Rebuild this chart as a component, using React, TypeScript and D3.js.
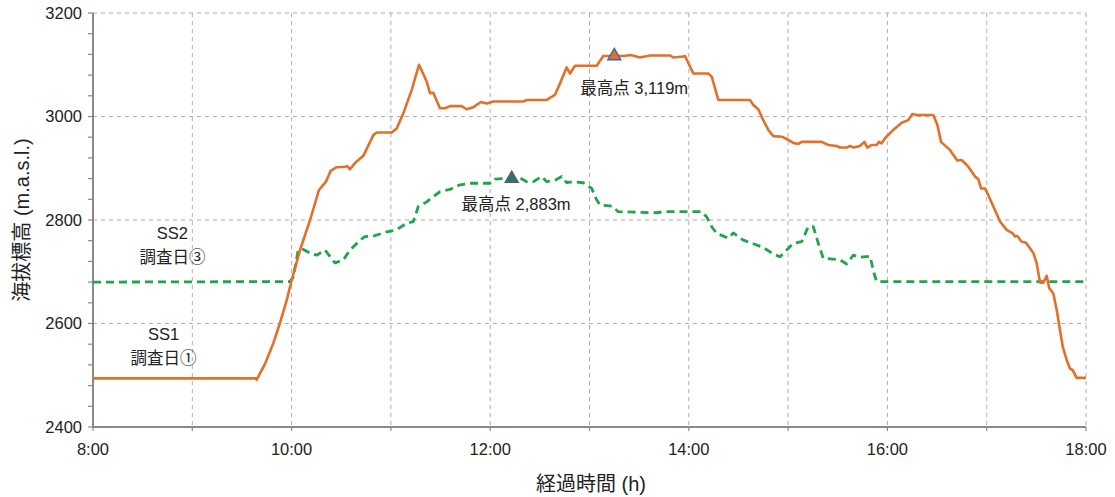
import React from "react";
import * as d3 from "d3";

// clock time (decimal hours) and elevation (m)
const ss1Time = [
  8.0, 9.641, 9.648, 9.732, 9.816, 9.883, 9.951, 10.001, 10.085, 10.186, 10.276, 10.346, 10.394, 10.454,
  10.538, 10.561, 10.588, 10.638, 10.722, 10.823, 10.857, 11.008, 11.058, 11.125, 11.209, 11.283, 11.31,
  11.361, 11.394, 11.427, 11.494, 11.545, 11.595, 11.713, 11.763, 11.83, 11.907, 11.965, 12.031, 12.333,
  12.368, 12.569, 12.653, 12.703, 12.77, 12.804, 12.854, 13.072, 13.139, 13.173, 13.34, 13.415, 13.508,
  13.609, 13.811, 13.844, 13.945, 13.962, 14.045, 14.196, 14.231, 14.297, 14.616, 14.65, 14.7, 14.75,
  14.801, 14.851, 14.936, 15.002, 15.052, 15.103, 15.137, 15.338, 15.405, 15.489, 15.523, 15.59, 15.623,
  15.657, 15.724, 15.768, 15.798, 15.842, 15.892, 15.915, 15.942, 15.976, 16.059, 16.144, 16.21, 16.251,
  16.295, 16.462, 16.503, 16.54, 16.631, 16.704, 16.748, 16.815, 16.882, 16.915, 16.943, 16.983, 17.016,
  17.084, 17.134, 17.201, 17.262, 17.285, 17.308, 17.353, 17.396, 17.47, 17.504, 17.537, 17.57, 17.604,
  17.63, 17.671, 17.705, 17.766, 17.806, 17.839, 17.866, 17.906, 18.0,
];
const ss1Elev = [
  2494, 2494, 2491, 2522, 2562, 2601, 2645, 2684, 2742, 2800, 2858, 2874, 2895, 2902,
  2903, 2904, 2898, 2910, 2924, 2964, 2969, 2969, 2977, 3006, 3051, 3100, 3089,
  3067, 3045, 3046, 3016, 3016, 3020, 3020, 3014, 3018, 3028, 3025, 3029, 3029,
  3032, 3032, 3042, 3064, 3095, 3083, 3098, 3098, 3117, 3117, 3117, 3119, 3114,
  3118, 3118, 3114, 3116, 3117, 3083, 3083, 3077, 3032, 3032, 3022, 3014, 2993,
  2974, 2962, 2961, 2955, 2949, 2947, 2951, 2951, 2945, 2943, 2940, 2940, 2943,
  2940, 2943, 2951, 2940, 2945, 2945, 2951, 2948, 2958, 2974, 2988, 2993, 3005,
  3003, 3003, 2984, 2951, 2935, 2915, 2916, 2903, 2884, 2879, 2861, 2861, 2848,
  2819, 2797, 2781, 2774, 2768, 2769, 2758, 2756, 2736, 2716, 2679, 2679, 2692,
  2668, 2658, 2626, 2555, 2529, 2513, 2510, 2495, 2495,
];

const ss2Time = [
  8.0, 9.984, 10.017, 10.067, 10.118, 10.185, 10.253, 10.336, 10.437, 10.521, 10.588, 10.689, 10.739,
  10.823, 10.958, 11.058, 11.159, 11.226, 11.276, 11.36, 11.494, 11.595, 11.696, 11.797, 11.998, 12.048,
  12.217, 12.3, 12.367, 12.434, 12.519, 12.569, 12.653, 12.72, 12.77, 12.837, 12.938, 13.022, 13.072,
  13.106, 13.224, 13.29, 13.677, 13.743, 14.13, 14.18, 14.231, 14.281, 14.398, 14.448, 14.549, 14.65,
  14.75, 14.851, 14.918, 14.986, 15.052, 15.137, 15.203, 15.254, 15.304, 15.354, 15.523, 15.59, 15.657,
  15.724, 15.825, 15.865, 15.892, 15.993, 18.0,
];
const ss2Elev = [
  2680, 2681, 2690, 2742, 2743, 2736, 2732, 2742, 2717, 2723, 2742, 2761, 2768,
  2769, 2777, 2781, 2794, 2797, 2826, 2835, 2855, 2859, 2868, 2871, 2871, 2879,
  2881, 2881, 2874, 2874, 2884, 2874, 2877, 2884, 2872, 2874, 2872, 2861, 2839,
  2829, 2827, 2816, 2814, 2816, 2816, 2806, 2787, 2774, 2765, 2775, 2761, 2754,
  2747, 2734, 2729, 2742, 2755, 2758, 2787, 2787, 2755, 2726, 2723, 2715, 2732,
  2728, 2730, 2697, 2681, 2681, 2681,
];

const peaks = [
  { t: 13.25, e: 3117, label: "最高点 3,119m", fill: "#e0702a", stroke: "#3b63a8", lx: 13.45, ly: 3044 },
  { t: 12.217, e: 2880, label: "最高点 2,883m", fill: "#2a7a4c", stroke: "#6d4f9e", lx: 12.26, ly: 2820 },
];

const notes = [
  { t: 8.8, e: 2764, text: "SS2" },
  { t: 8.8, e: 2717, text: "調査日③" },
  { t: 8.71, e: 2569, text: "SS1" },
  { t: 8.71, e: 2521, text: "調査日①" },
];

const xTicks = [8, 10, 12, 14, 16, 18];
const xGrid = d3.range(8, 19, 1);
const yTicks = [2400, 2600, 2800, 3000, 3200];
const yMinor = d3.range(2400, 3201, 40);

const W = 1115;
const H = 497;
const margin = { top: 13, right: 29, bottom: 70, left: 93 };
const font = "'Liberation Sans', Arial, 'Noto Sans CJK JP', sans-serif";

export default function App() {
  const x = d3.scaleLinear().domain([8, 18]).range([margin.left, W - margin.right]);
  const y = d3.scaleLinear().domain([2400, 3200]).range([H - margin.bottom, margin.top]);

  const path = (ts: number[], es: number[]) =>
    d3
      .line<number>()
      .x((_, i) => x(ts[i]))
      .y((_, i) => y(es[i]))(es) as string;

  const tri = d3.symbol().type(d3.symbolTriangle).size(75)();
  const grid = "#b4aaaa";
  const axis = "#8a8a8a";

  return (
    <div style={{ position: "absolute", left: 0, top: 0 }}>
      <svg width={W} height={H} style={{ display: "block", fontFamily: font }}>
        <rect width={W} height={H} fill="#fff" />
        {/* grid */}
        {xGrid.map((t) => (
          <line key={"gx" + t} x1={x(t)} x2={x(t)} y1={y(3200)} y2={y(2400)}
            stroke={grid} strokeWidth={1} strokeDasharray="4,4" />
        ))}
        {yTicks.map((v) => (
          <line key={"gy" + v} x1={x(8)} x2={x(18)} y1={y(v)} y2={y(v)}
            stroke={grid} strokeWidth={1} strokeDasharray="4,4" />
        ))}
        {/* axes */}
        <line x1={x(8)} x2={x(8)} y1={y(3200)} y2={y(2400)} stroke={axis} strokeWidth={2} />
        <line x1={x(8) - 1} x2={x(18)} y1={y(2400)} y2={y(2400)} stroke={axis} strokeWidth={2} />
        {yMinor.map((v) => (
          <line key={"ym" + v} x1={x(8) - 5} x2={x(8)} y1={y(v)} y2={y(v)} stroke={axis} strokeWidth={1.2} />
        ))}
        {xGrid.map((t) => (
          <line key={"xt" + t} x1={x(t)} x2={x(t)} y1={y(2400)} y2={y(2400) + 4} stroke={axis} strokeWidth={1.2} />
        ))}
        {yTicks.map((v) => (
          <text key={"yl" + v} x={x(8) - 11} y={y(v)} dy="0.36em" textAnchor="end" fontSize={16.5} fill="#222">
            {v}
          </text>
        ))}
        {xTicks.map((t) => (
          <text key={"xl" + t} x={x(t)} y={y(2400) + 28} textAnchor="middle" fontSize={16.5} fill="#222">
            {`${t}:00`}
          </text>
        ))}
        <text x={591} y={491} textAnchor="middle" fontSize={20} fill="#222">経過時間 (h)</text>
        <text transform={`translate(29,${(y(2400) + y(3200)) / 2}) rotate(-90)`} textAnchor="middle"
          fontSize={20} fill="#222">海拔標高 (m.a.s.l.)</text>

        {/* series */}
        <path d={path(ss2Time, ss2Elev)} fill="none" stroke="#1fa64a" strokeWidth={2.8}
          strokeDasharray="8,5" strokeLinejoin="round" />
        <path d={path(ss1Time, ss1Elev)} fill="none" stroke="#e0702a" strokeWidth={2.6}
          strokeLinejoin="round" />

        {peaks.map((p) => (
          <g key={p.label}>
            <path d={tri as string} transform={`translate(${x(p.t)},${y(p.e)})`}
              fill={p.fill} stroke={p.stroke} strokeWidth={1.3} />
            <text x={x(p.lx)} y={y(p.ly)} textAnchor="middle" fontSize={16.5} fill="#222">{p.label}</text>
          </g>
        ))}
        {notes.map((n) => (
          <text key={n.text} x={x(n.t)} y={y(n.e)} textAnchor="middle" fontSize={16.5} fill="#222">{n.text}</text>
        ))}
      </svg>
    </div>
  );
}
